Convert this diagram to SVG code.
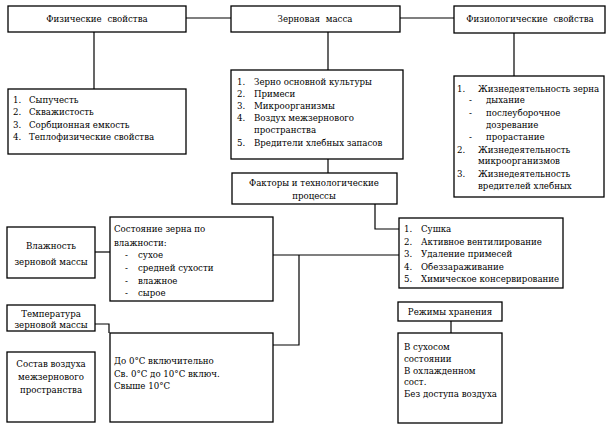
<svg xmlns="http://www.w3.org/2000/svg" width="609" height="426" viewBox="0 0 609 426">
<style>
.b{fill:#fff;stroke:#000;stroke-width:1.3}
.l{fill:none;stroke:#000;stroke-width:1.2}
text{font-family:"DejaVu Serif Condensed","DejaVu Serif","Liberation Serif",serif;font-stretch:condensed;font-size:9.6px;fill:#000}
.c{text-anchor:middle}
</style>
<rect width="609" height="426" fill="#fff"/>
<g id="connectors">
<path class="l" d="M186,18H231M400,18H454"/>
<path class="l" d="M94,32V89"/>
<path class="l" d="M328,32V70"/>
<path class="l" d="M514,33V76"/>
<path class="l" d="M328,159V173"/>
<path class="l" d="M375,204V229H399"/>
<path class="l" d="M273,255H399M299,255V345H273"/>
<path class="l" d="M95,252H110"/>
<path class="l" d="M95,324H109V333"/>
<path class="l" d="M451,321V333"/>
</g>
<g id="phys"><rect class="b" x="8" y="6" width="178" height="26"/><text class="c" x="97" y="22" word-spacing="3">Физические свойства</text></g>
<g id="mass"><rect class="b" x="231" y="6" width="169" height="26"/><text class="c" x="315" y="22" word-spacing="3">Зерновая масса</text></g>
<g id="physio"><rect class="b" x="454" y="6" width="151" height="27"/><text class="c" x="530" y="22" word-spacing="3">Физиологические свойства</text></g>
<g id="phys-list"><rect class="b" x="8" y="89" width="178" height="65"/>
<text x="13" y="103">1.</text><text x="29" y="103">Сыпучесть</text>
<text x="13" y="115">2.</text><text x="29" y="115">Скважистость</text>
<text x="13" y="128">3.</text><text x="29" y="128">Сорбционная емкость</text>
<text x="13" y="140">4.</text><text x="29" y="140">Теплофизические свойства</text>
</g>
<g id="mass-list"><rect class="b" x="231" y="70" width="172" height="89"/>
<text x="237" y="85">1.</text><text x="254" y="85">Зерно основной культуры</text>
<text x="237" y="97">2.</text><text x="254" y="97">Примеси</text>
<text x="237" y="109">3.</text><text x="254" y="109">Микроорганизмы</text>
<text x="237" y="121">4.</text><text x="254" y="121">Воздух межзернового</text>
<text x="254" y="133">пространства</text>
<text x="237" y="146">5.</text><text x="254" y="146">Вредители хлебных запасов</text>
</g>
<g id="physio-list"><rect class="b" x="454" y="76" width="150" height="121"/>
<text x="457" y="92">1.</text><text x="478" y="92">Жизнедеятельность зерна</text>
<text x="469" y="103">-</text><text x="486" y="103">дыхание</text>
<text x="469" y="116">-</text><text x="486" y="116">послеуборочное</text>
<text x="486" y="128">дозревание</text>
<text x="469" y="140">-</text><text x="486" y="140">прорастание</text>
<text x="457" y="153">2.</text><text x="478" y="153">Жизнедеятельность</text>
<text x="478" y="164">микроорганизмов</text>
<text x="457" y="177">3.</text><text x="478" y="177">Жизнедеятельность</text>
<text x="478" y="189">вредителей хлебных</text>
</g>
<g id="factors"><rect class="b" x="232" y="173" width="165" height="31"/>
<text class="c" x="314" y="186">Факторы и технологические</text>
<text class="c" x="314" y="199">процессы</text>
</g>
<g id="processes"><rect class="b" x="399" y="218" width="164" height="70"/>
<text x="404" y="232">1.</text><text x="421" y="232">Сушка</text>
<text x="404" y="245">2.</text><text x="421" y="245">Активное вентилирование</text>
<text x="404" y="257">3.</text><text x="421" y="257">Удаление примесей</text>
<text x="404" y="270">4.</text><text x="421" y="270">Обеззараживание</text>
<text x="404" y="282">5.</text><text x="421" y="282">Химическое консервирование</text>
</g>
<g id="moisture-state"><rect class="b" x="110" y="217" width="163" height="84"/>
<text x="114" y="232">Состояние зерна по</text>
<text x="114" y="246">влажности:</text>
<text x="125" y="258">-</text><text x="138" y="258">сухое</text>
<text x="125" y="271">-</text><text x="138" y="271">средней сухости</text>
<text x="125" y="284">-</text><text x="138" y="284">влажное</text>
<text x="125" y="296">-</text><text x="138" y="296">сырое</text>
</g>
<g id="moisture"><rect class="b" x="7" y="227" width="88" height="51"/>
<text class="c" x="51" y="249">Влажность</text>
<text class="c" x="51" y="265">зерновой массы</text>
</g>
<g id="temperature"><rect class="b" x="7" y="305" width="88" height="26"/>
<text class="c" x="51" y="317">Температура</text>
<text class="c" x="51" y="328">зерновой массы</text>
</g>
<g id="temp-ranges"><rect class="b" x="110" y="333" width="163" height="89"/>
<text x="114" y="364">До 0°С включительно</text>
<text x="114" y="377">Св. 0°С до 10°С включ.</text>
<text x="114" y="389">Свыше 10°С</text>
</g>
<g id="air"><rect class="b" x="7" y="352" width="88" height="70"/>
<text class="c" x="51" y="367">Состав воздуха</text>
<text class="c" x="51" y="380">межзернового</text>
<text class="c" x="51" y="393">пространства</text>
</g>
<g id="modes"><rect class="b" x="398" y="302" width="104" height="19"/>
<text class="c" x="450" y="315">Режимы хранения</text>
</g>
<g id="modes-list"><rect class="b" x="398" y="333" width="104" height="90"/>
<text x="404" y="350">В сухосом</text>
<text x="404" y="362">состоянии</text>
<text x="404" y="374">В охлажденном</text>
<text x="404" y="385">сост.</text>
<text x="404" y="397">Без доступа воздуха</text>
</g>
</svg>
